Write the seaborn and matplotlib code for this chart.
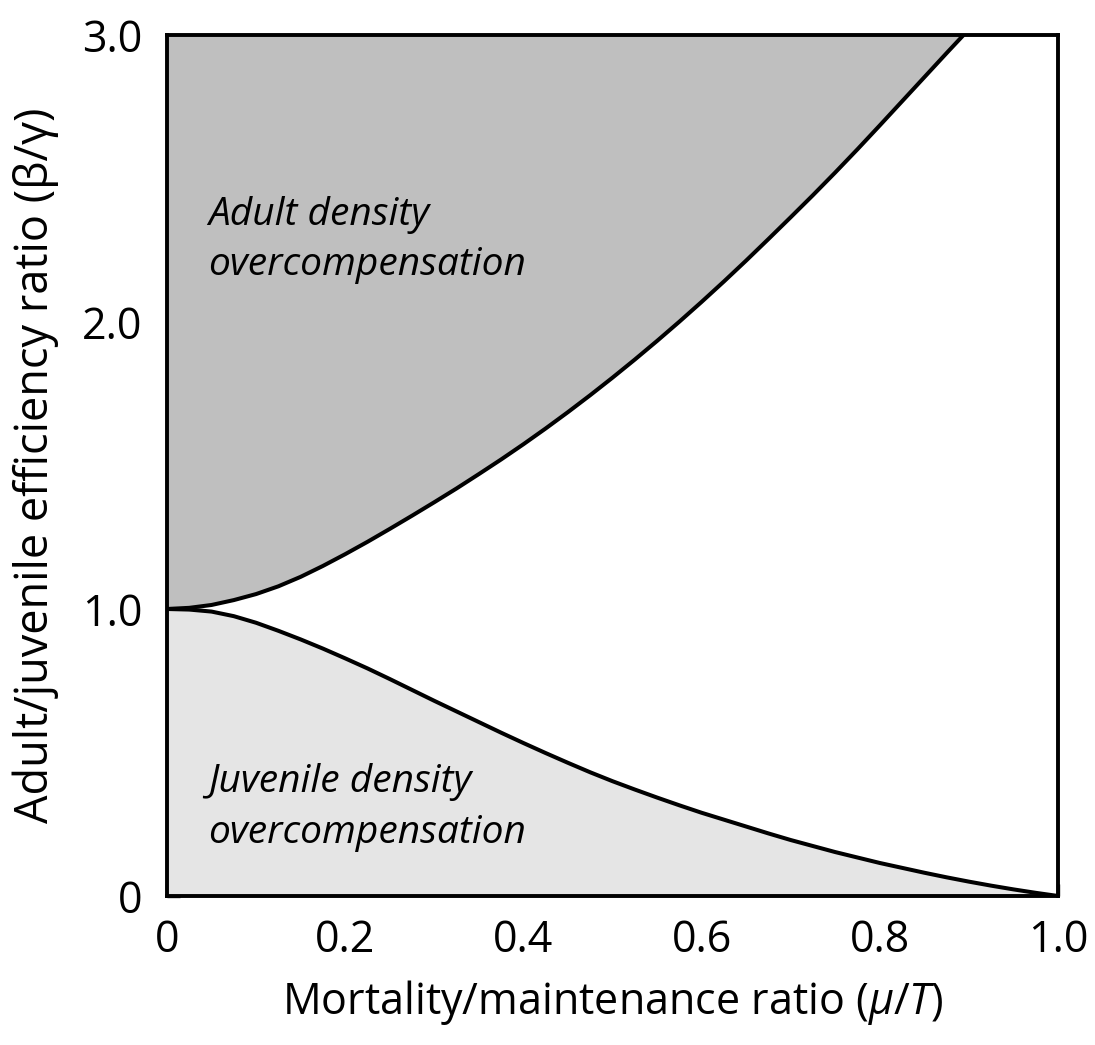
import matplotlib
matplotlib.use("Agg")
import matplotlib.pyplot as plt
import seaborn as sns
import numpy as np

# Boundary between the adult-overcompensation region and the rest
mortality_ratio_upper = [0.0, 0.025, 0.05, 0.075, 0.10, 0.125, 0.15, 0.175, 0.20, 0.225,
                         0.25, 0.275, 0.30, 0.325, 0.35, 0.375, 0.40, 0.425, 0.45, 0.475,
                         0.50, 0.525, 0.55, 0.575, 0.60, 0.625, 0.65, 0.675, 0.70, 0.725,
                         0.75, 0.775, 0.80, 0.825, 0.85, 0.875, 0.894]
adult_boundary = [1.0, 1.004, 1.014, 1.031, 1.052, 1.079, 1.112, 1.150, 1.191, 1.234,
                  1.279, 1.325, 1.372, 1.42, 1.47, 1.521, 1.574, 1.629, 1.686, 1.745,
                  1.806, 1.869, 1.934, 2.001, 2.07, 2.141, 2.214, 2.289, 2.365, 2.442,
                  2.521, 2.602, 2.685, 2.769, 2.853, 2.937, 3.0]

# Boundary between the juvenile-overcompensation region and the rest
mortality_ratio_lower = [0.0, 0.025, 0.05, 0.075, 0.10, 0.125, 0.15, 0.175, 0.20, 0.225,
                         0.25, 0.275, 0.30, 0.325, 0.35, 0.375, 0.40, 0.425, 0.45, 0.475,
                         0.50, 0.525, 0.55, 0.575, 0.60, 0.625, 0.65, 0.675, 0.70, 0.725,
                         0.75, 0.775, 0.80, 0.825, 0.85, 0.875, 0.90, 0.925, 0.95, 0.975, 1.0]
juvenile_boundary = [1.0, 0.998, 0.991, 0.975, 0.952, 0.924, 0.894, 0.862, 0.828, 0.793,
                     0.756, 0.718, 0.68, 0.643, 0.606, 0.569, 0.533, 0.498, 0.464, 0.431,
                     0.40, 0.371, 0.343, 0.316, 0.29, 0.266, 0.242, 0.218, 0.195, 0.174,
                     0.153, 0.134, 0.115, 0.098, 0.081, 0.065, 0.05, 0.036, 0.023, 0.011, 0.0]

x_ticks = [0.0, 0.2, 0.4, 0.6, 0.8, 1.0]
x_ticklabels = ["0", "0.2", "0.4", "0.6", "0.8", "1.0"]
y_ticks = [0.0, 1.0, 2.0, 3.0]
y_ticklabels = ["0", "1.0", "2.0", "3.0"]

sns.set_theme(style="white")
plt.rcParams["font.family"] = ["Open Sans", "DejaVu Sans"]
plt.rcParams["mathtext.fontset"] = "custom"
plt.rcParams["mathtext.it"] = "Open Sans:italic"
plt.rcParams["mathtext.rm"] = "Open Sans"

fig = plt.figure(figsize=(10.95, 10.45), dpi=100)
ax = fig.add_axes([0.1525, 0.1426, 0.8137, 0.8239])

ax.fill_between(mortality_ratio_upper, adult_boundary, 3.0, color="#bfbfbf", lw=0, zorder=1)
ax.fill_between(mortality_ratio_lower, 0.0, juvenile_boundary, color="#e5e5e5", lw=0, zorder=1)

sns.lineplot(x=mortality_ratio_upper, y=adult_boundary, ax=ax, color="black",
             lw=2.9, sort=False, estimator=None, zorder=3)
sns.lineplot(x=mortality_ratio_lower, y=juvenile_boundary, ax=ax, color="black",
             lw=2.9, sort=False, estimator=None, zorder=3)

ax.set_xlim(0, 1.0)
ax.set_ylim(0, 3.0)

ax.set_xticks(x_ticks)
ax.set_xticklabels(x_ticklabels)
ax.set_yticks(y_ticks)
ax.set_yticklabels(y_ticklabels)
ax.set_xticks(np.arange(0.1, 1.0, 0.2), minor=True)
ax.set_yticks([0.5, 1.5, 2.5], minor=True)

ax.tick_params(axis="both", which="major", direction="in", length=9, width=2.4,
               color="black", labelsize=31, labelcolor="black")
ax.tick_params(axis="both", which="minor", direction="in", length=4.5, width=2.4,
               color="black")
ax.tick_params(axis="x", which="major", pad=16, bottom=True, top=False)
ax.tick_params(axis="x", which="minor", bottom=True, top=False)
ax.tick_params(axis="y", which="major", pad=18, left=True, right=False)
ax.tick_params(axis="y", which="minor", left=True, right=False)

for side in ["top", "right", "bottom", "left"]:
    ax.spines[side].set_visible(True)
    ax.spines[side].set_color("black")
    ax.spines[side].set_linewidth(2.8)
    ax.spines[side].set_zorder(4)

ax.set_xlabel(r"Mortality/maintenance ratio ($\mu$/$T$)", fontsize=31, color="black", labelpad=11)
ax.set_ylabel("Adult/juvenile efficiency ratio (\u03b2/\u03b3)", fontsize=32.5, color="black", labelpad=16)

text_kw = dict(fontsize=28, fontstyle="italic", color="black", va="baseline", ha="left", zorder=5)
ax.text(0.046, 2.338, "Adult density", **text_kw)
ax.text(0.046, 2.164, "overcompensation", **text_kw)
ax.text(0.046, 0.362, "Juvenile density", **text_kw)
ax.text(0.046, 0.185, "overcompensation", **text_kw)

fig.savefig("out.png", dpi=100, facecolor="white")
